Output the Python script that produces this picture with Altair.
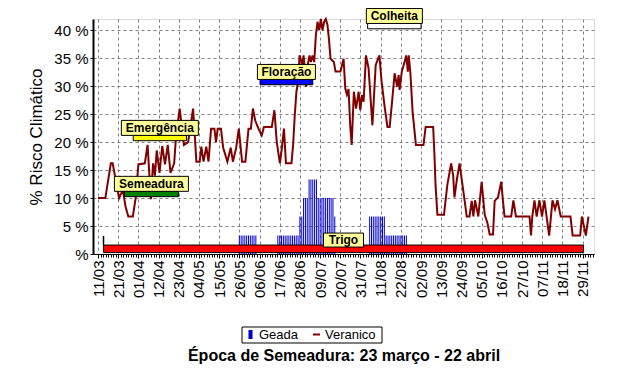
import altair as alt
import pandas as pd

FONT = "Liberation Sans"

# ---------------- data ----------------
tick_labels = ['11/03', '21/03', '01/04', '12/04', '23/04', '04/05', '15/05', '26/05',
               '06/06', '17/06', '28/06', '09/07', '20/07', '31/07', '11/08', '22/08',
               '02/09', '13/09', '24/09', '05/10', '16/10', '27/10', '07/11', '18/11', '29/11']
TICK_STEP = 11          # index units between labelled ticks
X_MAX = 267.5
Y_MAX = 42

ver_day = [0, 4, 7, 8, 9.5, 11.5, 13.5, 15, 16.5, 19, 20.5, 22, 25.5, 27, 28.8, 30, 31, 32,
           33.5, 35, 36.5, 38, 39.5, 41.5, 42.5, 44.5, 46.8, 49.1, 51.8, 53.6, 55.4, 56.3,
           57.5, 59, 60.2, 61.6, 63.4, 64.3, 65.2, 67, 68.2, 70.5, 72.3, 73.5, 75.3, 76.7,
           78.5, 80.3, 82, 83.3, 84.4, 85.6, 87.4, 89.2, 90.4, 94.7, 96.1, 97.4, 99.1, 100.2,
           101.3, 102.4, 105.4, 106.3, 107.2, 108.1, 109, 109.8, 111.3, 112, 113.4, 114.3,
           115.2, 116, 116.9, 117.8, 118.7, 119.6, 120.5, 121.4, 122.3, 123.2, 124.1, 125,
           125.8, 126.7, 128.5, 129.4, 132.1, 133.8, 134.7, 135.6, 136.5, 137.4, 138.2,
           139.4, 140.6, 142, 142.9, 143.8, 144.7, 146, 147.4, 149.5, 151.3, 153.3, 154.5,
           156.3, 157.7, 158.9, 160.2, 161.6, 163, 163.8, 164.3, 165.5, 167, 167.9, 168.8,
           169.3, 170.2, 171.4, 173.2, 177.3, 178.5, 182.6, 183.3, 183.9, 184.9, 188.5,
           190.3, 192.4, 193.5, 194.2, 195.6, 197, 198.3, 199.5, 200.9, 202.4, 203.6, 204.5,
           205.4, 207.2, 209, 210.7, 212.2, 213.4, 215.2, 216.1, 217.9, 219.7, 220.6, 221.5,
           225.1, 226.3, 227.7, 235.1, 235.9, 236.6, 237.8, 239, 240.5, 241.9, 243.2, 245.8,
           247.6, 249, 250.3, 252.1, 257.4, 258.6, 262.7, 263.6, 265.8, 267.2]
ver_val = [10, 10, 16.2, 16.2, 13.5, 10, 11.5, 8.5, 6.7, 6.7, 10, 16, 16.2, 19.5, 9.8, 16.2, 14, 18.5,
           14.5, 19.3, 16, 19.5, 14.5, 16.2, 21, 26, 19.5, 20, 26, 16.5, 16.5, 19.2,
           16.5, 19.2, 16.5, 22.4, 22.4, 20, 22.4, 22.4, 19, 16.5, 19, 16.5, 19, 22.4,
           16.5, 16.5, 22.4, 22.4, 26, 23.9, 22.4, 21.2, 22.7, 22.7, 25.7, 20, 16.2, 19,
           22.4, 16.2, 16.2, 19.5, 24.8, 29, 30.8, 35.5, 34, 35.5, 29.9, 33.8,
           35.5, 34.3, 35.5, 34.3, 39.1, 41.5, 40, 42, 40, 41.5, 42, 41,
           38.5, 34.9, 34.3, 32.6, 32.6, 34.9, 29.6, 28.5, 29.5, 23, 19.5,
           29, 26, 29, 25.7, 28.4, 27.2, 35.5, 33.2, 23, 33.8, 35.5, 30.8,
           26, 22.7, 22.7, 27.2, 32.3, 29.9, 32, 29.3, 32.6, 34.3, 35.5, 32.6,
           35.5, 32.3, 25.4, 19.5, 19.5, 22.7, 22.7, 17.7, 12.3, 7, 7,
           12.3, 16.2, 14, 10.1, 13.5, 16.2, 13, 10.1, 6.7, 6.7, 9.5, 6.7,
           9.6, 6.7, 12.9, 7, 5.5, 3.5, 3.5, 9.5, 10.1, 12.9, 9.6, 6.7,
           6.7, 9.6, 6.7, 6.7, 3.3, 6.7, 9.6, 6.7, 9.6, 6.7, 9.6, 3.3,
           9.6, 8, 9.6, 6.7, 6.7, 3.3, 3.3, 6.7, 3.3, 6.7]

geada_day = [77, 78, 79, 80, 81, 82, 83, 84, 85, 86,
             98, 99, 100, 101, 102, 103, 104, 105, 106, 107, 108, 109,
             110, 111, 112, 113, 114, 115, 116, 117, 118, 119,
             120, 121, 122, 123, 124, 125, 126, 127, 128, 129,
             148, 149, 150, 151, 152, 153, 154, 155, 156,
             157, 158, 159, 160, 161, 162, 163, 164, 165, 166, 167, 168]
geada_val = [3.3, 3.3, 3.3, 3.3, 3.3, 3.3, 3.3, 3.3, 3.3, 3.3,
             3.3, 3.3, 3.3, 3.3, 3.3, 3.3, 3.3, 3.3, 3.3, 3.3, 3.3, 3.3,
             6.7, 6.7, 10, 10, 10, 13.3, 13.3, 13.3, 13.3, 13.3,
             10, 10, 10, 10, 10, 10, 10, 10, 10, 6.7,
             6.7, 6.7, 6.7, 6.7, 6.7, 6.7, 6.7, 6.7, 6.7,
             3.3, 3.3, 3.3, 3.3, 3.3, 3.3, 3.3, 3.3, 3.3, 3.3, 3.3, 3.3]

phase_name = ['Semeadura', 'Emergência', 'Floração', 'Colheita']
phase_start = [14.4, 19.2, 88.3, 146.9]
phase_end = [43.8, 48.2, 117.0, 176.0]
phase_level = [10, 20, 30, 40]

crop_name = ['Trigo']
crop_start = [3.0]
crop_end = [264.5]
crop_low = [0.25]
crop_high = [1.6]

# ---------------- styles ----------------
phase_fill = {'Semeadura': '#008000', 'Emergência': '#ffff00',
              'Floração': '#0000ff', 'Colheita': '#ffffff'}
box_width = {'Semeadura': 74, 'Emergência': 77, 'Floração': 58, 'Colheita': 56, 'Trigo': 40}
BOX_FILL = '#ffff99'
LINE_COLOR = '#800000'
GEADA_COLOR = '#0000cc'

x_scale = alt.Scale(domain=[0, X_MAX], nice=False, zero=False)
y_scale = alt.Scale(domain=[0, Y_MAX], nice=False, zero=True)

label_js = "[" + ",".join("'%s'" % t for t in tick_labels) + "]"
x_axis = alt.Axis(
    orient='bottom',
    values=[i * TICK_STEP for i in range(len(tick_labels))],
    labelExpr="%s[round(datum.value/%d)]" % (label_js, TICK_STEP),
    labelAngle=270, labelAlign='right', labelBaseline='middle',
    labelFontSize=15, labelFont=FONT, labelPadding=2, labelColor='black',
    labelOverlap=False, labelFlush=False,
    tickSize=4, tickColor='black', domainColor='black',
    grid=True, gridDash=[3, 3], gridColor='#808080', gridOpacity=1,
    title='Época de Semeadura: 23 março - 22 abril', titleFont=FONT,
    titleFontSize=16, titleFontWeight='bold', titleColor='black', titlePadding=50,
)
minor_axis = alt.Axis(
    orient='bottom',
    values=[i * TICK_STEP / 8 for i in range(1, 8 * 24 + 10)],
    labels=False, domain=False, grid=False, tickSize=3, tickColor='black',
    title=None,
)
y_axis = alt.Axis(
    orient='left',
    values=list(range(0, 41, 5)),
    labelExpr="datum.value == 0 ? '%' : datum.value + ' %'",
    labelFontSize=15, labelFont=FONT, labelColor='black', labelPadding=2,
    tickSize=3, tickColor='black', domainColor='black', domainWidth=2,
    grid=True, gridDash=[3, 3], gridColor='#808080', gridOpacity=1,
    title='% Risco Climático', titleFont=FONT, titleFontSize=17,
    titleFontWeight='normal', titleColor='black', titlePadding=8,
)

# ---------------- layers ----------------
ver_df = pd.DataFrame({'day': ver_day, 'val': ver_val, 's': 'Veranico'})
geada_df = pd.DataFrame({'day': geada_day, 'val': geada_val, 's': 'Geada'})

line = alt.Chart(ver_df).mark_line(strokeWidth=2).encode(
    x=alt.X('day:Q', scale=x_scale, axis=x_axis),
    y=alt.Y('val:Q', scale=y_scale, axis=y_axis),
    stroke=alt.Stroke('s:N', scale=alt.Scale(domain=['Veranico'], range=[LINE_COLOR]),
                      legend=alt.Legend(title=None, orient='none', legendX=217, legendY=309,
                                        symbolType='stroke', symbolSize=49,
                                        symbolStrokeWidth=2, labelFont=FONT,
                                        labelFontSize=13, labelColor='black',
                                        labelOffset=2, padding=0)),
)

geada = alt.Chart(geada_df).mark_bar(size=1).encode(
    x=alt.X('day:Q', scale=x_scale, axis=minor_axis),
    y=alt.Y('val:Q', scale=y_scale, axis=None),
    fill=alt.Fill('s:N', scale=alt.Scale(domain=['Geada'], range=[GEADA_COLOR]),
                  legend=alt.Legend(title=None, orient='none', legendX=151, legendY=309,
                                    symbolType='M-0.45,-1H0.45V1H-0.45Z', symbolSize=81,
                                    symbolStrokeWidth=0, labelFont=FONT, labelFontSize=13,
                                    labelColor='black', labelOffset=2, padding=0)),
)

crop_df = pd.DataFrame({'name': crop_name, 'start': crop_start, 'end': crop_end,
                        'low': crop_low, 'high': crop_high})
crop_bar = alt.Chart(crop_df).mark_rect(fill='#ff0000', stroke='black', strokeWidth=1).encode(
    x=alt.X('start:Q', scale=x_scale, axis=None), x2='end:Q',
    y=alt.Y('low:Q', scale=y_scale, axis=None), y2='high:Q',
)
crop_mark = alt.Chart(crop_df).mark_rule(color='black', strokeWidth=1.5, yOffset=-9).encode(
    x=alt.X('start:Q', scale=x_scale, axis=None),
    y=alt.Y('high:Q', scale=y_scale, axis=None), y2='high:Q',
)
crop_box = alt.Chart(crop_df).transform_calculate(mid='(datum.start + datum.end) / 2').mark_rect(
    fill=BOX_FILL, stroke='black', strokeWidth=1,
    xOffset=-box_width['Trigo'] / 2, x2Offset=box_width['Trigo'] / 2,
    yOffset=-12, y2Offset=2,
).encode(
    x=alt.X('mid:Q', scale=x_scale, axis=None), x2='mid:Q',
    y=alt.Y('high:Q', scale=y_scale, axis=None), y2='high:Q',
)
crop_text = alt.Chart(crop_df).transform_calculate(mid='(datum.start + datum.end) / 2').mark_text(
    font=FONT, fontSize=12, fontWeight='bold', color='black', baseline='middle', dy=-5,
).encode(
    x=alt.X('mid:Q', scale=x_scale, axis=None),
    y=alt.Y('high:Q', scale=y_scale, axis=None),
    text='name:N',
)

phase_layers = []
for name, s, e, lv in zip(phase_name, phase_start, phase_end, phase_level):
    pdf = pd.DataFrame({'name': [name], 'start': [s], 'end': [e], 'level': [lv]})
    base = alt.Chart(pdf).transform_calculate(
        mid='(datum.start + datum.end) / 2',
        low='datum.level + 0.25',
        top='datum.level + 1.2',
    )
    bar = base.mark_rect(fill=phase_fill[name], stroke='black', strokeWidth=1).encode(
        x=alt.X('start:Q', scale=x_scale, axis=None), x2='end:Q',
        y=alt.Y('low:Q', scale=y_scale, axis=None), y2='top:Q',
    )
    w = box_width[name]
    box = base.mark_rect(fill=BOX_FILL, stroke='black', strokeWidth=1,
                         xOffset=-w / 2, x2Offset=w / 2, yOffset=-15, y2Offset=0).encode(
        x=alt.X('mid:Q', scale=x_scale, axis=None), x2='mid:Q',
        y=alt.Y('top:Q', scale=y_scale, axis=None), y2='top:Q',
    )
    txt = base.mark_text(font=FONT, fontSize=12, fontWeight='bold', color='black',
                         baseline='middle', dy=-7.5).encode(
        x=alt.X('mid:Q', scale=x_scale, axis=None),
        y=alt.Y('top:Q', scale=y_scale, axis=None),
        text='name:N',
    )
    phase_layers += [bar, box, txt]

legend_frame = alt.Chart(pd.DataFrame({'k': [0]})).mark_rect(
    fill='white', stroke='black', strokeWidth=1).encode(
    x=alt.value(149), x2=alt.value(289), y=alt.value(308), y2=alt.value(324),
)

chart = alt.layer(
    line, geada, crop_bar, crop_mark, crop_box, crop_text, *phase_layers, legend_frame,
).resolve_axis(x='independent', y='independent').resolve_scale(
    fill='independent', stroke='independent'
).properties(
    width=501, height=235,
    autosize=alt.AutoSizeParams(type='none'),
    padding={'left': 85, 'top': 11, 'right': 20, 'bottom': 120},
    background='white',
).configure_view(stroke='black', strokeWidth=1).configure(font=FONT)

chart.save("out.html", embed_options={"renderer": "svg", "actions": False})
